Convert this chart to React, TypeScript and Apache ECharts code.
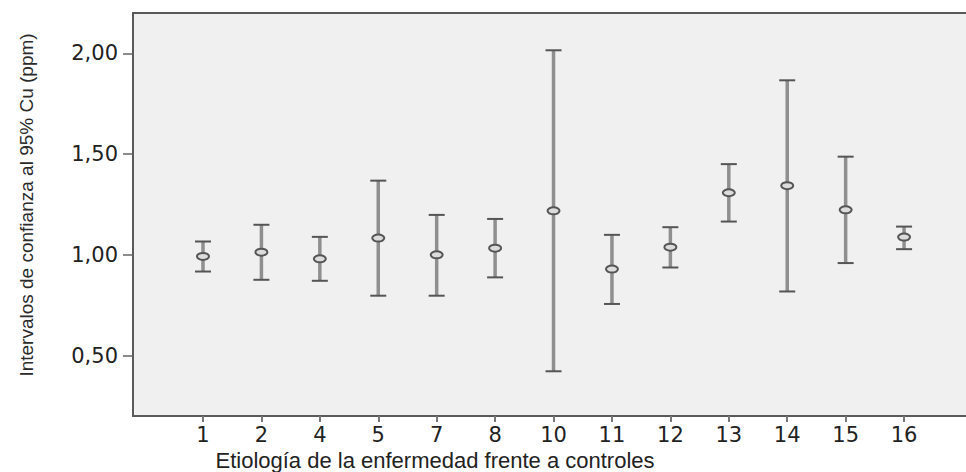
import React, { useEffect, useRef } from "react";
import * as echarts from "echarts";

const categories = ["1", "2", "4", "5", "7", "8", "10", "11", "12", "13", "14", "15", "16"];
const means = [0.992, 1.013, 0.98, 1.083, 1.0, 1.033, 1.218, 0.929, 1.038, 1.308, 1.343, 1.223, 1.088];
const lowers = [0.917, 0.876, 0.871, 0.797, 0.797, 0.888, 0.422, 0.756, 0.937, 1.165, 0.818, 0.959, 1.028];
const uppers = [1.066, 1.149, 1.089, 1.368, 1.198, 1.178, 2.015, 1.099, 1.137, 1.45, 1.866, 1.487, 1.14];
const yTicks = [0.5, 1.0, 1.5, 2.0];

export default function App() {
  const ref = useRef<HTMLDivElement>(null);
  useEffect(() => {
    if (!ref.current) return;
    const chart = echarts.init(ref.current, undefined, { renderer: "svg" });
    const data = categories.map((_, i) => [i, lowers[i], means[i], uppers[i]]);
    const xIdx = categories.map((_, i) => i);
    const frame = { show: true, onZero: false, lineStyle: { color: "#5a5a5a", width: 2 } };
    chart.setOption({
      animation: false,
      backgroundColor: "#ffffff",
      grid: {
        show: true,
        left: 133,
        top: 13,
        bottom: 56,
        right: 0,
        backgroundColor: "#f0f0f0",
        borderWidth: 0,
      },
      xAxis: [
        {
          type: "value",
          position: "bottom",
          min: -1.198,
          max: 13.06,
          axisLine: frame,
          splitLine: { show: false },
          axisTick: {
            show: true,
            customValues: xIdx,
            length: 6,
            lineStyle: { color: "#777", width: 2 },
          },
          axisLabel: {
            customValues: xIdx,
            margin: 8,
            formatter: (v: number) => categories[Math.round(v)] ?? "",
            fontFamily: "DejaVu Sans",
            fontSize: 21,
            color: "#222",
          },
        },
        {
          type: "value",
          position: "top",
          min: -1.198,
          max: 13.06,
          axisLine: frame,
          splitLine: { show: false },
          axisTick: { show: false },
          axisLabel: { show: false },
        },
      ],
      yAxis: {
        type: "value",
        min: 0.2,
        max: 2.2,
        axisLine: frame,
        splitLine: { show: false },
        axisTick: {
          show: true,
          customValues: yTicks,
          length: 10,
          lineStyle: { color: "#666", width: 1.5 },
        },
        axisLabel: {
          customValues: yTicks,
          margin: 15,
          formatter: (v: number) => v.toFixed(2).replace(".", ","),
          fontFamily: "DejaVu Sans",
          fontSize: 21,
          color: "#222",
        },
      },
      graphic: [
        {
          type: "text",
          x: 26,
          y: 205,
          rotation: Math.PI / 2,
          style: {
            text: "Intervalos de confianza al 95% Cu (ppm)",
            fontFamily: "Liberation Sans",
            fontSize: 19,
            fill: "#2a2a2a",
            textAlign: "center",
            textVerticalAlign: "middle",
          },
        },
        {
          type: "text",
          x: 435,
          y: 460,
          style: {
            text: "Etiología de la enfermedad frente a controles",
            fontFamily: "Liberation Sans",
            fontSize: 22,
            fill: "#222",
            textAlign: "center",
            textVerticalAlign: "middle",
          },
        },
      ],
      series: [
        {
          type: "custom",
          xAxisIndex: 0,
          data,
          encode: { x: 0, y: [1, 2, 3] },
          renderItem: (params: any, api: any) => {
            const x = api.value(0);
            const lo = api.coord([x, api.value(1)]);
            const mid = api.coord([x, api.value(2)]);
            const hi = api.coord([x, api.value(3)]);
            const cap = 8;
            return {
              type: "group",
              children: [
                {
                  type: "line",
                  shape: { x1: hi[0], y1: hi[1], x2: lo[0], y2: lo[1] },
                  style: { stroke: "#8f8f8f", lineWidth: 3.5 },
                },
                {
                  type: "line",
                  shape: { x1: hi[0] - cap, y1: hi[1], x2: hi[0] + cap, y2: hi[1] },
                  style: { stroke: "#555", lineWidth: 2 },
                },
                {
                  type: "line",
                  shape: { x1: lo[0] - cap, y1: lo[1], x2: lo[0] + cap, y2: lo[1] },
                  style: { stroke: "#555", lineWidth: 2 },
                },
                {
                  type: "ellipse",
                  shape: { cx: mid[0], cy: mid[1], rx: 6, ry: 3.5 },
                  style: { stroke: "#555", lineWidth: 2, fill: "#dcdcdc" },
                },
              ],
            };
          },
        },
      ],
    });
    return () => chart.dispose();
  }, []);
  return (
    <div
      ref={ref}
      style={{ position: "fixed", left: 0, top: 0, width: 966, height: 472 }}
    />
  );
}
